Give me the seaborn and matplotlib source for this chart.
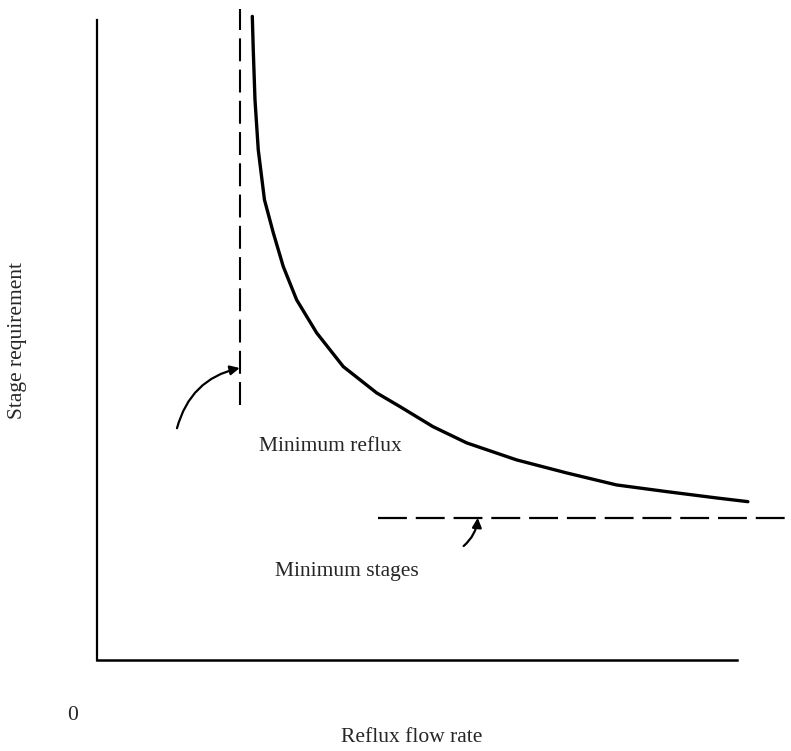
import numpy as np
import pandas as pd
import seaborn as sns
import matplotlib.pyplot as plt

# Curve (arbitrary units)
reflux = [24.27, 24.42, 24.69, 25.20, 26.17, 27.55, 29.11, 31.20, 34.33, 38.48,
          43.70, 47.34, 52.50, 57.77, 65.58, 73.39, 81.20, 89.02, 96.83, 101.72]
stages = [100.52, 95.31, 87.50, 79.69, 71.88, 66.72, 61.45, 56.25, 51.09, 45.83,
          41.72, 39.58, 36.45, 33.91, 31.25, 29.22, 27.34, 26.30, 25.31, 24.73]

min_reflux_x = 22.3
min_reflux_span = [39.8, 101.6]
min_stages_y = 22.2
min_stages_span = [43.9, 108.3]

sns.set_style("white")
plt.rcParams['font.family'] = ['Liberation Serif', 'DejaVu Serif']

df = pd.DataFrame({'reflux': reflux, 'stages': stages})

fig = plt.figure(figsize=(7.91, 7.51), dpi=100)
ax = fig.add_axes([97 / 791, 91 / 751, (790 - 97) / 791, (660 - 5) / 751])

sns.lineplot(data=df, x='reflux', y='stages', sort=False, color='black', linewidth=2.4,
             solid_capstyle='round', solid_joinstyle='round', ax=ax)

ax.plot([min_reflux_x, min_reflux_x], min_reflux_span, color='black', linewidth=1.5,
        dashes=(11, 4))
ax.plot(min_stages_span, [min_stages_y, min_stages_y], color='black', linewidth=1.6,
        dashes=(13, 4))

ax.annotate('', xy=(min_reflux_x, 45.6), xytext=(12.5, 36.2),
            arrowprops=dict(arrowstyle='-|>', color='black', lw=1.6, mutation_scale=14,
                            shrinkA=0, shrinkB=0, connectionstyle='arc3,rad=-0.3'))
ax.text(25.3, 33.3, 'Minimum reflux', fontsize=15.5, va='center', ha='left')

ax.annotate('', xy=(59.5, min_stages_y), xytext=(57.3, 17.8),
            arrowprops=dict(arrowstyle='-|>', color='black', lw=1.6, mutation_scale=14,
                            shrinkA=0, shrinkB=0, connectionstyle='arc3,rad=0.2'))
ax.text(27.8, 13.75, 'Minimum stages', fontsize=15.5, va='center', ha='left')

ax.set_xlabel('')
ax.set_ylabel('')
ax.set_xlim(0, 108.3)
ax.set_ylim(0, 102.3)
ax.set_xticks([])
ax.set_yticks([])
sns.despine(ax=ax)
ax.spines['left'].set_bounds(0, 100)
ax.spines['bottom'].set_bounds(0, 100)
ax.spines['left'].set_linewidth(1.6)
ax.spines['bottom'].set_linewidth(1.8)
ax.spines['left'].set_color('black')
ax.spines['bottom'].set_color('black')

fig.text(73 / 791, 1 - 715 / 751, '0', fontsize=15.5, ha='center', va='center')
fig.text(412 / 791, 1 - 737 / 751, 'Reflux flow rate', fontsize=15.5, ha='center', va='center')
fig.text(18 / 791, 1 - 340 / 751, 'Stage requirement', fontsize=15.5, ha='center', va='center',
         rotation=90)

fig.savefig('out.png', dpi=100)
